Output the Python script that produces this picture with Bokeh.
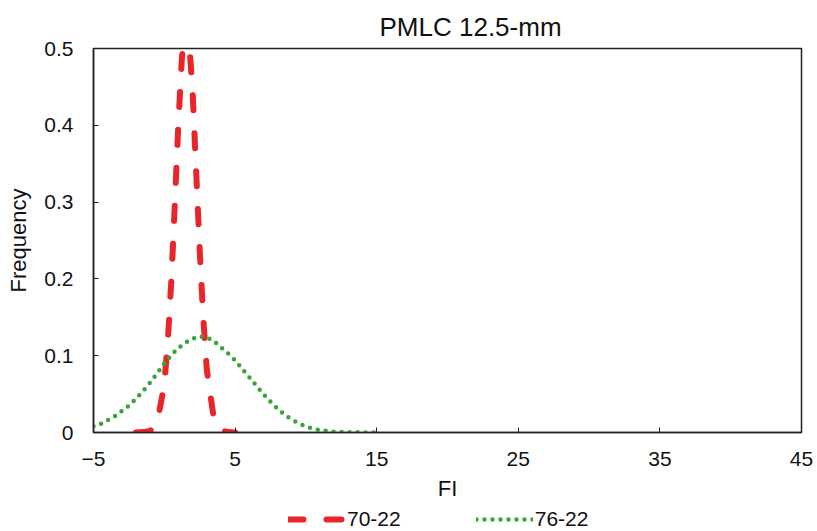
from bokeh.plotting import figure
from bokeh.layouts import column
from bokeh.models import Range1d, FixedTicker, Legend, LegendItem, Title
from bokeh.embed import file_html
from bokeh.resources import INLINE

# Series 70-22 (red dashed)
red_x = [-2.0, -1.5, -1.0, -0.5, 0.0, 0.25, 0.5, 0.75, 1.0, 1.25, 1.5, 1.75, 2.0, 2.25, 2.5,
         2.75, 3.0, 3.5, 4.0, 4.5, 5.0]
red_y = [0.0, 0.0005, 0.002, 0.013, 0.062, 0.12, 0.199, 0.30, 0.405, 0.49, 0.53, 0.51, 0.443,
         0.34, 0.238, 0.15, 0.082, 0.018, 0.003, 0.0005, 0.0]

# Series 76-22 (green dotted)
green_x = [-5.0, -4.5, -4.0, -3.5, -3.0, -2.5, -2.0, -1.5, -1.0, -0.5, 0.0, 0.5, 1.0, 1.5, 2.0,
           2.5, 3.0, 3.5, 4.0, 4.5, 5.0, 5.5, 6.0, 6.5, 7.0, 7.5, 8.0, 8.5, 9.0, 9.5, 10.0,
           10.5, 11.0, 11.5, 12.0, 12.5, 13.0, 13.5, 14.0, 14.5, 15.0]
green_y = [0.008, 0.011, 0.016, 0.021, 0.028, 0.035, 0.044, 0.054, 0.065, 0.077, 0.090, 0.101,
           0.110, 0.117, 0.122, 0.125, 0.124, 0.119, 0.111, 0.103, 0.094, 0.083, 0.072, 0.061,
           0.050, 0.040, 0.031, 0.023, 0.017, 0.012, 0.008, 0.005, 0.003, 0.002, 0.001, 0.0006,
           0.0003, 0.0002, 0.0001, 0.0, 0.0]

series_names = ["70-22", "76-22"]
x_ticks = [-5, 5, 15, 25, 35, 45]
y_ticks = [0, 0.1, 0.2, 0.3, 0.4, 0.5]
y_tick_labels = {0: "0", 0.1: "0.1", 0.2: "0.2", 0.3: "0.3", 0.4: "0.4", 0.5: "0.5"}

FONT = "Liberation Sans"
RED = dict(line_color="#e8262a", line_width=6, line_dash="15 23", line_cap="round")
GREEN = dict(line_color="#3aa33a", line_width=4.5, line_dash="0 8", line_cap="round")

p = figure(width=817, height=506, output_backend="svg", toolbar_location=None,
           x_range=Range1d(-5, 45), y_range=Range1d(0, 0.5),
           min_border_left=93, min_border_right=16, min_border_top=48, min_border_bottom=74)

p.title = Title(text="PMLC 12.5-mm", align="left", text_font=FONT, text_font_size="26px",
                text_font_style="normal", text_color="#111111", offset=286, standoff=13)

p.grid.visible = False
p.outline_line_color = "#222222"
p.outline_line_width = 1.5
p.background_fill_color = "white"
p.border_fill_color = "white"

for ax in (p.xaxis[0], p.yaxis[0]):
    ax.axis_line_color = "#222222"
    ax.axis_line_width = 1.5
    ax.major_tick_in = 5
    ax.major_tick_out = 0
    ax.minor_tick_line_color = None
    ax.major_tick_line_color = "#222222"
    ax.major_label_text_font = FONT
    ax.major_label_text_font_size = "21px"
    ax.major_label_text_color = "#111111"
    ax.axis_label_text_font = FONT
    ax.axis_label_text_font_size = "22px"
    ax.axis_label_text_font_style = "normal"
    ax.axis_label_text_color = "#111111"

p.xaxis.ticker = FixedTicker(ticks=x_ticks)
p.yaxis.ticker = FixedTicker(ticks=y_ticks)
p.yaxis.major_label_overrides = y_tick_labels
p.xaxis.axis_label = "FI"
p.yaxis.axis_label = "Frequency"
p.xaxis.major_label_standoff = 19
p.yaxis.major_label_standoff = 20
p.xaxis.axis_label_standoff = 7
p.yaxis.axis_label_standoff = 10

p.line(red_x, red_y, **RED)
p.line(green_x, green_y, **GREEN)

# Legend strip below the chart (its lines fall outside its ranges; only the legend shows)
q = figure(width=817, height=25, output_backend="svg", toolbar_location=None,
           x_range=Range1d(100, 101), y_range=Range1d(100, 101),
           x_axis_location=None, y_axis_location=None, min_border=0)
q.grid.visible = False
q.outline_line_color = None
q.background_fill_color = "white"
q.border_fill_color = "white"
lr1 = q.line(red_x, red_y, **RED)
lr2 = q.line(green_x, green_y, **GREEN)

legend = Legend(items=[LegendItem(label=series_names[0], renderers=[lr1]),
                       LegendItem(label=series_names[1], renderers=[lr2])],
                orientation="horizontal", location=(195, 0), spacing=75,
                glyph_width=57, glyph_height=22, label_standoff=2, border_line_color=None,
                background_fill_alpha=0, padding=0, margin=0,
                label_text_font=FONT, label_text_font_size="21px", label_text_color="#111111")
q.add_layout(legend, "center")

open("out.html", "w").write(file_html(column(p, q, spacing=0), INLINE))
